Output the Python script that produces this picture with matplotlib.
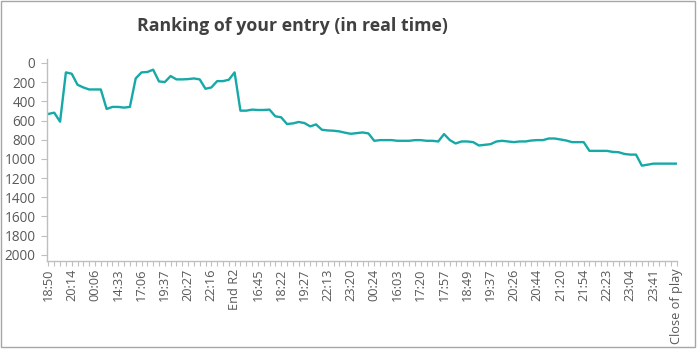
import matplotlib
matplotlib.use("Agg")
import matplotlib.pyplot as plt
from matplotlib.patches import Rectangle

# Rank snapshots, one per update (lower is better)
ranks = [
    531, 518, 612, 98, 112, 227, 255, 276, 276, 276,
    479, 458, 458, 465, 458, 161, 98, 94, 70, 192,
    199, 136, 171, 171, 168, 161, 171, 269, 255, 189,
    189, 175, 98, 497, 497, 486, 490, 490, 486, 556,
    566, 636, 630, 615, 626, 661, 640, 696, 703, 706,
    713, 727, 738, 731, 724, 734, 811, 804, 804, 804,
    811, 811, 811, 804, 804, 811, 811, 818, 741, 804,
    839, 818, 818, 825, 860, 853, 846, 818, 811, 818,
    825, 818, 818, 808, 804, 804, 787, 787, 797, 808,
    825, 825, 825, 916, 916, 916, 916, 927, 930, 948,
    955, 955, 1070, 1060, 1049, 1049, 1049, 1049, 1049,
]

# Time labels shown on every fourth update
time_labels = [
    "18:50", "20:14", "00:06", "14:33", "17:06", "19:37", "20:27", "22:16",
    "End R2", "16:45", "18:22", "19:27", "22:13", "23:20", "00:24", "16:03",
    "17:20", "17:57", "18:49", "19:37", "20:26", "20:44", "21:20", "21:54",
    "22:23", "23:04", "23:41", "Close of play",
]
label_step = 4

y_ticks = list(range(0, 2001, 200))

plt.rcParams["font.family"] = ["Open Sans", "DejaVu Sans"]

fig = plt.figure(figsize=(6.99, 3.5), dpi=100)
ax = fig.add_axes([0.0668, 0.254, 0.9022, 0.577])

xs = list(range(len(ranks)))
ax.plot(xs, ranks, color="#17A9A7", lw=1.7, solid_joinstyle="round")

ax.set_ylim(2065, -40)
ax.set_xlim(-0.3, len(ranks) - 0.9)

axis_col = "#BFBFBF"
text_col = "#595959"

ax.set_yticks(y_ticks)
ax.set_yticklabels([str(v) for v in y_ticks], fontsize=9.8, color=text_col)

ax.set_xticks(xs, minor=True)
ax.set_xticks(xs[::label_step])
ax.set_xticklabels(time_labels, rotation=90, fontsize=9.2, color=text_col)

ax.tick_params(axis="y", which="major", length=4, width=0.8, color=axis_col, pad=4)
ax.tick_params(axis="x", which="major", length=3.5, width=0.8, color=axis_col, pad=2)
ax.tick_params(axis="x", which="minor", length=3.5, width=0.8, color=axis_col)

for side in ("top", "right"):
    ax.spines[side].set_visible(False)
for side in ("left", "bottom"):
    ax.spines[side].set_color(axis_col)
    ax.spines[side].set_linewidth(1.0)

fig.text(292 / 699, 1 - 26 / 350, "Ranking of your entry (in real time)",
         ha="center", va="center", fontsize=12.8, fontweight="bold", color="#404040")

fig.patches.append(Rectangle((0.0008, 0.009), 0.9935, 0.988, transform=fig.transFigure,
                             fill=False, edgecolor="#A6A6A6", lw=1.0))

fig.savefig("out.png", dpi=100, facecolor="white")
